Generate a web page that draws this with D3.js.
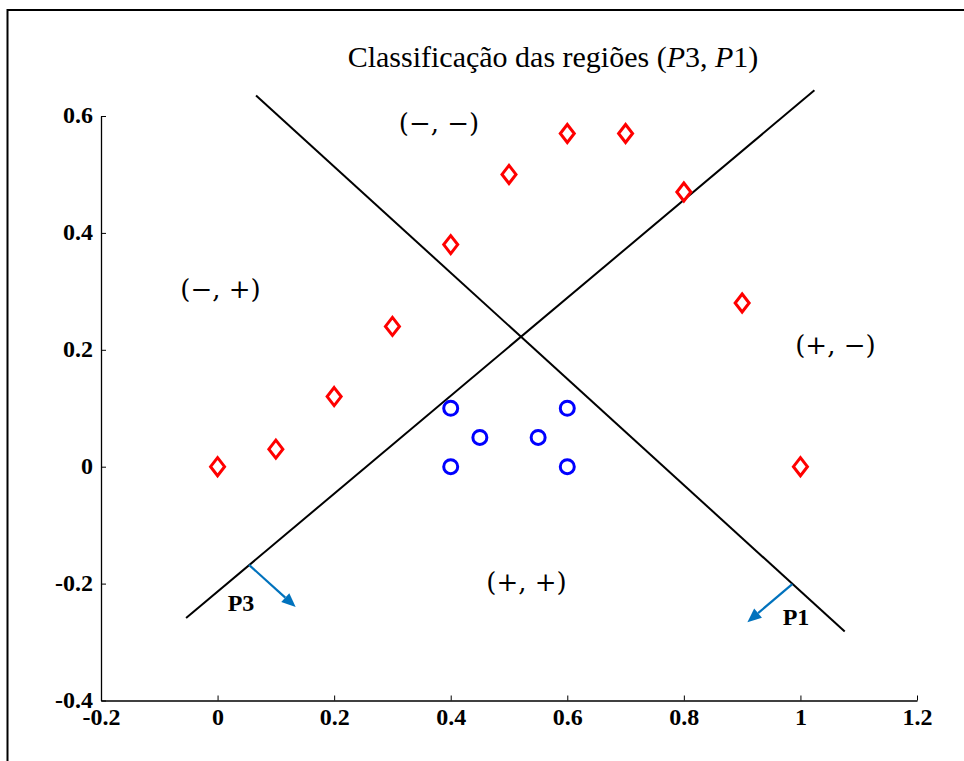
<!DOCTYPE html>
<html>
<head>
<meta charset="utf-8">
<script src="https://cdn.jsdelivr.net/npm/d3@7"></script>
<style>
  html, body { margin: 0; padding: 0; background: #fff; }
  svg { display: block; }
</style>
</head>
<body>
<svg id="chart" width="964" height="761"></svg>
<script>
// Class A samples (red diamonds)
const redX = [0, 0.1, 0.2, 0.3, 0.4, 0.5, 0.6, 0.7, 0.8, 0.9, 1.0];
const redY = [0, 0.03, 0.12, 0.24, 0.38, 0.5, 0.57, 0.57, 0.47, 0.28, 0];
// Class B samples (blue circles)
const blueX = [0.4, 0.45, 0.55, 0.6, 0.4, 0.6];
const blueY = [0.1, 0.05, 0.05, 0.1, 0, 0];
// Decision lines P3 and P1 (end points)
const lineP3X = [-0.054, 1.024];
const lineP3Y = [-0.259, 0.644];
const lineP1X = [0.066, 1.076];
const lineP1Y = [0.635, -0.282];
// Normal vectors (start, end)
const arrowP3X = [0.054, 0.134];
const arrowP3Y = [-0.168, -0.240];
const arrowP1X = [0.986, 0.909];
const arrowP1Y = [-0.201, -0.266];
// Axis ticks
const xTicks = [-0.2, 0, 0.2, 0.4, 0.6, 0.8, 1, 1.2];
const yTicks = [-0.4, -0.2, 0, 0.2, 0.4, 0.6];
// Region labels
const regionText = ["(−, −)", "(−, +)", "(+, −)", "(+, +)"];
const regionX = [0.38, 0.005, 1.06, 0.53];
const regionY = [0.585, 0.3, 0.205, -0.2];

const svg = d3.select("#chart");
const x = d3.scaleLinear().domain([-0.2, 1.2]).range([101, 917]);
const y = d3.scaleLinear().domain([-0.4, 0.6]).range([700.5, 116]);
const serif = "'Liberation Serif', 'Times New Roman', serif";
const fmt = d => String(+d.toFixed(1));

// Figure frame
svg.append("path")
  .attr("d", "M7.5,761 V10 H964")
  .attr("fill", "none").attr("stroke", "#000").attr("stroke-width", 2);

// Title
const title = svg.append("text")
  .attr("x", 553).attr("y", 67)
  .attr("text-anchor", "middle")
  .attr("font-family", serif).attr("font-size", 30).attr("fill", "#000");
title.append("tspan").text("Classificação das regiões (");
title.append("tspan").attr("font-style", "italic").text("P");
title.append("tspan").text("3, ");
title.append("tspan").attr("font-style", "italic").text("P");
title.append("tspan").text("1)");

// Axes
const xAxis = d3.axisBottom(x).tickValues(xTicks).tickSizeInner(-5).tickSizeOuter(0)
  .tickPadding(10).tickFormat(fmt);
const yAxis = d3.axisLeft(y).tickValues(yTicks).tickSizeInner(-5).tickSizeOuter(0)
  .tickPadding(8).tickFormat(fmt);

const gx = svg.append("g").attr("transform", `translate(0,${y(-0.4)})`).call(xAxis);
const gy = svg.append("g").attr("transform", `translate(${x(-0.2)},0)`).call(yAxis);
[gx, gy].forEach(g => {
  g.select(".domain").attr("stroke", "#000").attr("stroke-width", 1.3);
  g.selectAll(".tick line").attr("stroke", "#000").attr("stroke-width", 1);
  g.selectAll(".tick text")
    .attr("font-family", serif).attr("font-size", 24).attr("font-weight", "bold").attr("fill", "#000");
});
gx.selectAll(".tick text").attr("dy", "0.6em");
gy.selectAll(".tick text").attr("dy", "0.28em");

// Decision lines
const line = d3.line().x(d => x(d[0])).y(d => y(d[1]));
svg.append("path").attr("d", line(d3.zip(lineP3X, lineP3Y)))
  .attr("stroke", "#000").attr("stroke-width", 2).attr("fill", "none");
svg.append("path").attr("d", line(d3.zip(lineP1X, lineP1Y)))
  .attr("stroke", "#000").attr("stroke-width", 2).attr("fill", "none");

// Normal arrows
const arrowBlue = "#0072BD";
function arrow(xs, ys) {
  const x0 = x(xs[0]), y0 = y(ys[0]), x1 = x(xs[1]), y1 = y(ys[1]);
  const a = Math.atan2(y1 - y0, x1 - x0);
  const L = 14, W = 6;
  const bx = x1 - L * Math.cos(a), by = y1 - L * Math.sin(a);
  svg.append("line").attr("x1", x0).attr("y1", y0).attr("x2", bx).attr("y2", by)
    .attr("stroke", arrowBlue).attr("stroke-width", 2.2);
  const px = -Math.sin(a), py = Math.cos(a);
  svg.append("path")
    .attr("d", `M${x1},${y1} L${bx + W * px},${by + W * py} L${bx - W * px},${by - W * py} Z`)
    .attr("fill", arrowBlue);
}
arrow(arrowP3X, arrowP3Y);
arrow(arrowP1X, arrowP1Y);

svg.append("text").attr("x", 241).attr("y", 611).attr("text-anchor", "middle")
  .attr("font-family", serif).attr("font-size", 24).attr("font-weight", "bold").text("P3");
svg.append("text").attr("x", 796).attr("y", 625).attr("text-anchor", "middle")
  .attr("font-family", serif).attr("font-size", 24).attr("font-weight", "bold").text("P1");

// Region labels
svg.append("g").selectAll("text").data(regionText).join("text")
  .attr("x", (d, i) => x(regionX[i])).attr("y", (d, i) => y(regionY[i]))
  .attr("text-anchor", "middle").attr("dominant-baseline", "middle")
  .attr("font-family", "'DejaVu Serif', serif").attr("font-size", 26).attr("fill", "#000")
  .text(d => d);

// Red diamonds
svg.append("g").selectAll("path").data(d3.zip(redX, redY)).join("path")
  .attr("d", d => {
    const cx = x(d[0]), cy = y(d[1]);
    return `M${cx},${cy - 9} L${cx + 7},${cy} L${cx},${cy + 9} L${cx - 7},${cy} Z`;
  })
  .attr("fill", "none").attr("stroke", "#ff0000").attr("stroke-width", 3);

// Blue circles
svg.append("g").selectAll("circle").data(d3.zip(blueX, blueY)).join("circle")
  .attr("cx", d => x(d[0])).attr("cy", d => y(d[1])).attr("r", 7)
  .attr("fill", "none").attr("stroke", "#0000ff").attr("stroke-width", 3);
</script>
</body>
</html>
